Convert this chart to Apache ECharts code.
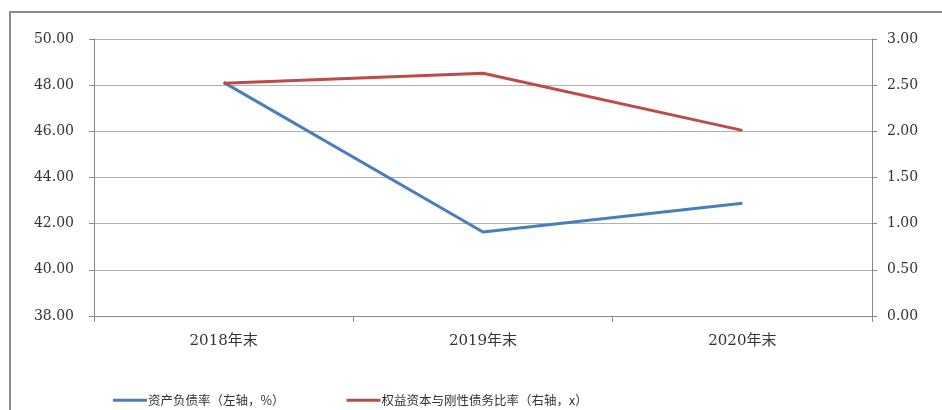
<!DOCTYPE html>
<html><head><meta charset="utf-8">
<script src="https://cdn.jsdelivr.net/npm/echarts@6/dist/echarts.min.js"></script>
<style>
html,body{margin:0;padding:0;background:#fff;width:942px;height:410px;overflow:hidden;}
#frame{position:absolute;left:9px;top:11px;width:940px;height:420px;border:2px solid #8c8c8c;box-sizing:border-box;}
#c{position:absolute;left:0;top:0;width:942px;height:410px;}
</style></head>
<body>
<div id="frame"></div>
<div id="c"></div>
<script>
const categories = ['2018年末', '2019年末', '2020年末'];
const debtRatio = [48.12, 41.64, 42.88];
const equityRatio = [2.52, 2.63, 2.01];
const leftTicks = [38, 50, 2];
const rightTicks = [0, 3, 0.5];
const seriesNames = ['资产负债率（左轴，%）', '权益资本与刚性债务比率（右轴，x）'];

const chart = echarts.init(document.getElementById('c'), null, {renderer:'canvas'});
const numFont = {fontFamily:'DejaVu Serif, Noto Sans CJK SC', fontSize:14, color:'#333'};
chart.setOption({
  animation:false,
  backgroundColor:'transparent',
  grid:{left:94, right:70, top:39, bottom:94},
  legend:{
    left:113, top:394, padding:0, itemWidth:34, itemHeight:3, itemGap:62,
    icon:'rect',
    textStyle:{fontFamily:'Noto Sans CJK SC', fontSize:12.5, color:'#333', padding:[0,0,0,-4]},
    data:seriesNames
  },
  xAxis:{
    type:'category', data:categories, boundaryGap:true,
    axisLine:{lineStyle:{color:'#8a8a8a', width:1}},
    axisTick:{show:true, length:6, lineStyle:{color:'#8a8a8a'}},
    axisLabel:Object.assign({}, numFont, {margin:18, fontSize:15})
  },
  yAxis:[
    {type:'value', min:leftTicks[0], max:leftTicks[1], interval:leftTicks[2], position:'left',
     axisLine:{show:true, lineStyle:{color:'#8a8a8a'}},
     axisTick:{show:true, length:5, lineStyle:{color:'#8a8a8a'}},
     splitLine:{show:true, lineStyle:{color:'#b0b0b0', width:1}},
     axisLabel:Object.assign({}, numFont, {margin:20, formatter:v=>v.toFixed(2)})},
    {type:'value', min:rightTicks[0], max:rightTicks[1], interval:rightTicks[2], position:'right',
     axisLine:{show:true, lineStyle:{color:'#8a8a8a'}},
     axisTick:{show:true, length:5, lineStyle:{color:'#8a8a8a'}},
     splitLine:{show:false},
     axisLabel:Object.assign({}, numFont, {margin:15, formatter:v=>v.toFixed(2)})}
  ],
  series:[
    {name:seriesNames[0], type:'line', yAxisIndex:0, data:debtRatio, showSymbol:false, symbol:'none',
     lineStyle:{color:'#4a7ebb', width:3}, itemStyle:{color:'#4a7ebb'}},
    {name:seriesNames[1], type:'line', yAxisIndex:1, data:equityRatio, showSymbol:false, symbol:'none',
     lineStyle:{color:'#be4b48', width:3}, itemStyle:{color:'#be4b48'}}
  ]
});
</script>
</body></html>
